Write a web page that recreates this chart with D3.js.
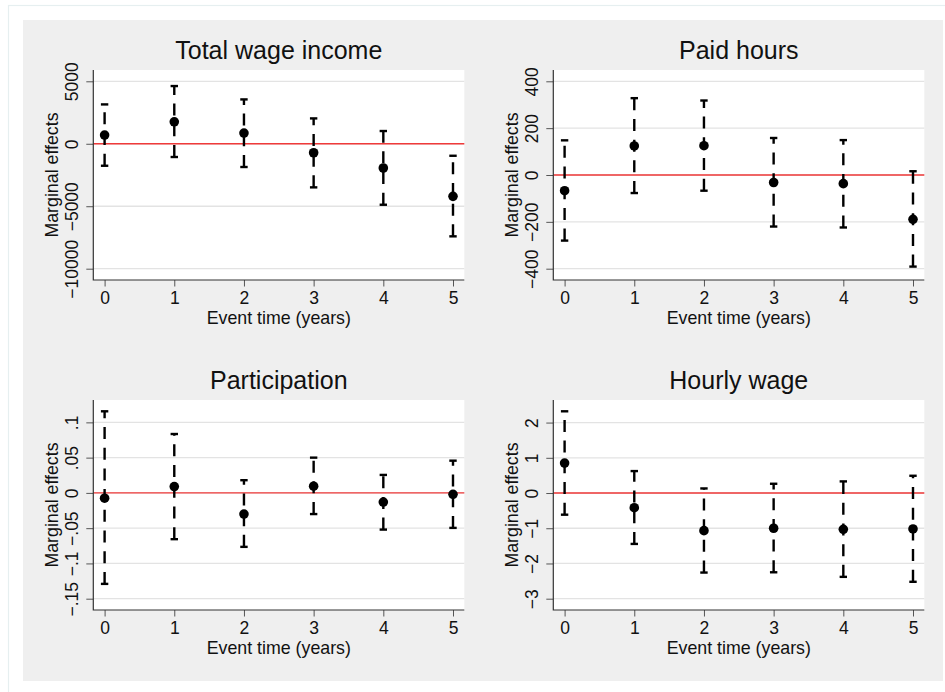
<!DOCTYPE html>
<html>
<head>
<meta charset="utf-8">
<script src="https://cdn.jsdelivr.net/npm/d3@7"></script>
<style>
  body { margin: 0; background: #fff; }
  svg { display: block; font-family: "Liberation Sans", Arial, Helvetica, sans-serif; }
</style>
</head>
<body>
<script>
// event time on the x axis, same for every panel
const eventTimes = [0, 1, 2, 3, 4, 5];
const xTickLabels = ["0", "1", "2", "3", "4", "5"];

// Total wage income
const wageEst = [700, 1760, 860, -720, -1940, -4210];
const wageLo = [-1760, -1060, -1860, -3490, -4880, -7410];
const wageHi = [3150, 4620, 3550, 2030, 1020, -960];
const wageTicks = [-10000, -5000, 0, 5000];
const wageTickLabels = ["\u221210000", "\u22125000", "0", "5000"];

// Paid hours
const hoursEst = [-67, 124, 125, -32, -37, -189];
const hoursLo = [-280, -77, -67, -220, -224, -391];
const hoursHi = [148, 328, 318, 158, 149, 16];
const hoursTicks = [-400, -200, 0, 200, 400];
const hoursTickLabels = ["\u2212400", "\u2212200", "0", "200", "400"];

// Participation
const partEst = [-0.0075, 0.009, -0.030, 0.0095, -0.013, -0.002];
const partLo = [-0.129, -0.0656, -0.0765, -0.030, -0.052, -0.0496];
const partHi = [0.1157, 0.0835, 0.018, 0.050, 0.0255, 0.0457];
const partTicks = [-0.15, -0.1, -0.05, 0, 0.05, 0.1];
const partTickLabels = ["\u2212.15", "\u2212.1", "\u2212.05", "0", ".05", ".1"];

// Hourly wage
const hourlyEst = [0.85, -0.416, -1.068, -1.0, -1.03, -1.02];
const hourlyLo = [-0.615, -1.445, -2.258, -2.25, -2.38, -2.52];
const hourlyHi = [2.32, 0.623, 0.13, 0.263, 0.33, 0.49];
const hourlyTicks = [-3, -2, -1, 0, 1, 2];
const hourlyTickLabels = ["\u22123", "\u22122", "\u22121", "0", "1", "2"];

const panelTitles = ["Total wage income", "Paid hours", "Participation", "Hourly wage"];

const panels = [
  { title: panelTitles[0], est: wageEst, lo: wageLo, hi: wageHi, ticks: wageTicks, labels: wageTickLabels, col: 0, row: 0 },
  { title: panelTitles[1], est: hoursEst, lo: hoursLo, hi: hoursHi, ticks: hoursTicks, labels: hoursTickLabels, col: 1, row: 0 },
  { title: panelTitles[2], est: partEst, lo: partLo, hi: partHi, ticks: partTicks, labels: partTickLabels, col: 0, row: 1 },
  { title: panelTitles[3], est: hourlyEst, lo: hourlyLo, hi: hourlyHi, ticks: hourlyTicks, labels: hourlyTickLabels, col: 1, row: 1 }
];

const width = 945;
const height = 692;
const colLeft = [93.3, 553.3];
const rowTop = [70, 400];
const plotW = 371;
const plotH = 210;
const pad = 11.3; // inner margin of plot region

const svg = d3.select("body")
  .append("svg")
  .attr("width", width)
  .attr("height", height);

// outer frame and grey graph region
svg.append("rect")
  .attr("x", 8.5).attr("y", 5.5)
  .attr("width", width).attr("height", height)
  .attr("fill", "#fff")
  .attr("stroke", "#e6eff0")
  .attr("stroke-width", 1.2);

svg.append("rect")
  .attr("x", 23).attr("y", 20)
  .attr("width", 920).attr("height", 661)
  .attr("fill", "#efefef");

panels.forEach(p => {
  const left = colLeft[p.col];
  const top = rowTop[p.row];
  const right = left + plotW;
  const bottom = top + plotH;

  const yExt = d3.extent(p.ticks.concat(p.lo, p.hi));
  const x = d3.scaleLinear().domain(d3.extent(eventTimes)).range([left + pad, right - pad]);
  const y = d3.scaleLinear().domain(yExt).range([bottom - pad, top + pad]);

  const g = svg.append("g");

  g.append("rect")
    .attr("x", left).attr("y", top)
    .attr("width", plotW).attr("height", plotH)
    .attr("fill", "#fff");

  // gridlines
  g.selectAll(".grid")
    .data(p.ticks)
    .enter()
    .append("line")
    .attr("x1", left).attr("x2", right)
    .attr("y1", d => y(d)).attr("y2", d => y(d))
    .attr("stroke", "#e3e3e3")
    .attr("stroke-width", 1.3);

  // zero line
  g.append("line")
    .attr("x1", left).attr("x2", right)
    .attr("y1", y(0)).attr("y2", y(0))
    .attr("stroke", "#f03a3a")
    .attr("stroke-width", 1.3);

  // axes
  const yAxis = d3.axisLeft(y)
    .tickValues(p.ticks)
    .tickFormat((d, i) => p.labels[i])
    .tickSize(7)
    .tickSizeOuter(0);

  const ya = g.append("g")
    .attr("transform", `translate(${left},0)`)
    .call(yAxis);
  ya.select(".domain").remove();
  ya.selectAll(".tick line").attr("stroke", "#555");
  ya.selectAll(".tick text")
    .attr("transform", "rotate(-90)")
    .attr("x", 0)
    .attr("y", -15.6)
    .attr("dy", 0)
    .attr("text-anchor", "middle")
    .attr("fill", "#111")
    .style("font-size", "17.5px")
    .style("font-family", "inherit");

  const xAxis = d3.axisBottom(x)
    .tickValues(eventTimes)
    .tickFormat((d, i) => xTickLabels[i])
    .tickSize(6.5)
    .tickSizeOuter(0);

  const xa = g.append("g")
    .attr("transform", `translate(0,${bottom})`)
    .call(xAxis);
  xa.select(".domain").remove();
  xa.selectAll(".tick line").attr("stroke", "#555");
  xa.selectAll(".tick text")
    .attr("y", 24.3)
    .attr("dy", 0)
    .attr("fill", "#111")
    .style("font-size", "17.5px")
    .style("font-family", "inherit");

  g.append("path")
    .attr("d", `M${left},${top}V${bottom}H${right}`)
    .attr("fill", "none")
    .attr("stroke", "#333")
    .attr("stroke-width", 1.2);

  // error bars
  const idx = d3.range(eventTimes.length);

  g.selectAll(".bar")
    .data(idx)
    .enter()
    .append("line")
    .attr("x1", i => x(eventTimes[i])).attr("x2", i => x(eventTimes[i]))
    .attr("y1", i => y(p.lo[i])).attr("y2", i => y(p.hi[i]))
    .attr("stroke", "#000")
    .attr("stroke-width", 2.4)
    .attr("stroke-dasharray", "12 8.7");

  [p.lo, p.hi].forEach(ends => {
    g.selectAll(null)
      .data(idx)
      .enter()
      .append("line")
      .attr("x1", i => x(eventTimes[i]) - 3.7).attr("x2", i => x(eventTimes[i]) + 3.7)
      .attr("y1", i => y(ends[i])).attr("y2", i => y(ends[i]))
      .attr("stroke", "#000")
      .attr("stroke-width", 2.4);
  });

  g.selectAll(".pt")
    .data(idx)
    .enter()
    .append("circle")
    .attr("cx", i => x(eventTimes[i]))
    .attr("cy", i => y(p.est[i]))
    .attr("r", 4.8)
    .attr("fill", "#000");

  // titles
  g.append("text")
    .attr("x", (left + right) / 2)
    .attr("y", top - 10.7)
    .attr("text-anchor", "middle")
    .attr("fill", "#111")
    .style("font-size", "25px")
    .text(p.title);

  g.append("text")
    .attr("x", (left + right) / 2)
    .attr("y", bottom + 43.8)
    .attr("text-anchor", "middle")
    .attr("fill", "#111")
    .style("font-size", "17.8px")
    .text("Event time (years)");

  g.append("text")
    .attr("transform", `translate(${left - 35},${(top + bottom) / 2}) rotate(-90)`)
    .attr("text-anchor", "middle")
    .attr("fill", "#111")
    .style("font-size", "17.8px")
    .text("Marginal effects");
});
</script>
</body>
</html>
